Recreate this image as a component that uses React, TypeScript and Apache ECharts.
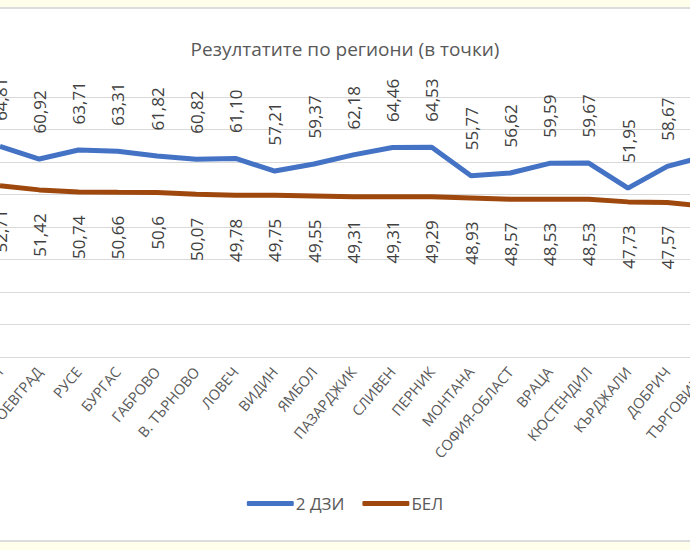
import React, { useEffect, useRef } from "react";
import * as echarts from "echarts";

const categories = [
  "СМОЛЯН",
  "БЛАГОЕВГРАД",
  "РУСЕ",
  "БУРГАС",
  "ГАБРОВО",
  "В. ТЪРНОВО",
  "ЛОВЕЧ",
  "ВИДИН",
  "ЯМБОЛ",
  "ПАЗАРДЖИК",
  "СЛИВЕН",
  "ПЕРНИК",
  "МОНТАНА",
  "СОФИЯ-ОБЛАСТ",
  "ВРАЦА",
  "КЮСТЕНДИЛ",
  "КЪРДЖАЛИ",
  "ДОБРИЧ",
  "ТЪРГОВИЩЕ",
];

const dziValues = [
  64.81, 60.92, 63.71, 63.31, 61.82, 60.82, 61.1, 57.21, 59.37, 62.18, 64.46,
  64.53, 55.77, 56.62, 59.59, 59.67, 51.95, 58.67, 61.8,
];

const belValues = [
  52.71, 51.42, 50.74, 50.66, 50.6, 50.07, 49.78, 49.75, 49.55, 49.31, 49.31,
  49.29, 48.93, 48.57, 48.53, 48.53, 47.73, 47.57, 46.3,
];

const seriesNames = ["2 ДЗИ", "БЕЛ"];
const titleText = "Резултатите по региони (в точки)";

const FONT = "'Open Sans', 'Noto Sans', sans-serif";

export default function App() {
  const ref = useRef<HTMLDivElement>(null);

  useEffect(() => {
    if (!ref.current) return;
    const chart = echarts.init(ref.current, null, { renderer: "svg" });
    chart.setOption({
      animation: false,
      backgroundColor: "#ffffff",
      textStyle: { fontFamily: FONT },
      graphic: [
        { type: "rect", shape: { x: 0, y: 0, width: 690, height: 7 }, style: { fill: "#FFFEEA" }, silent: true },
        { type: "rect", shape: { x: 0, y: 7, width: 690, height: 2 }, style: { fill: "#DCDCDC" }, silent: true },
        { type: "rect", shape: { x: 0, y: 540, width: 690, height: 2 }, style: { fill: "#DCDCDC" }, silent: true },
        { type: "rect", shape: { x: 0, y: 542, width: 690, height: 8 }, style: { fill: "#FFFEEA" }, silent: true },
      ],
      title: {
        text: titleText,
        left: "center",
        top: 34,
        textStyle: { fontFamily: FONT, fontSize: 19, fontWeight: "normal", color: "#595959" },
      },
      legend: {
        data: seriesNames,
        top: 490,
        left: "center",
        icon: "roundRect",
        itemWidth: 47,
        itemHeight: 5,
        itemGap: 18,
        textStyle: { fontFamily: FONT, fontSize: 17, color: "#595959", padding: [0, 0, 0, -3] },
      },
      grid: {
        left: 0,
        right: -16.5,
        top: 97,
        bottom: 193,
        containLabel: false,
        outerBoundsMode: "none",
      },
      xAxis: {
        type: "category",
        data: categories,
        boundaryGap: false,
        axisLine: { show: true, lineStyle: { color: "#D9D9D9", width: 1 } },
        axisTick: { show: false },
        axisLabel: {
          rotate: 50,
          margin: 12,
          interval: 0,
          fontFamily: FONT,
          fontSize: 14.5,
          color: "#595959",
        },
      },
      yAxis: {
        type: "value",
        min: 0,
        max: 80,
        interval: 10,
        axisLabel: { show: false },
        axisLine: { show: false },
        axisTick: { show: false },
        splitLine: { lineStyle: { color: "#D9D9D9", width: 1 } },
      },
      series: [
        {
          name: seriesNames[0],
          type: "line",
          data: dziValues,
          symbol: "circle",
          symbolSize: 1,
          showSymbol: true,
          color: "#4472C4",
          itemStyle: { color: "#4472C4" },
          lineStyle: { color: "#4472C4", width: 5 },
          labelLayout: { hideOverlap: false },
          label: {
            show: true,
            position: "top",
            distance: 25,
            rotate: 90,
            align: "left",
            verticalAlign: "middle",
            fontFamily: FONT,
            fontSize: 17,
            color: "#404040",
            formatter: (p: any) => Number(p.value).toFixed(2).replace(".", ","),
          },
        },
        {
          name: seriesNames[1],
          type: "line",
          data: belValues,
          symbol: "circle",
          symbolSize: 1,
          showSymbol: true,
          color: "#9E480E",
          itemStyle: { color: "#9E480E" },
          lineStyle: { color: "#9E480E", width: 5 },
          labelLayout: { hideOverlap: false },
          label: {
            show: true,
            position: "bottom",
            distance: 23,
            rotate: 90,
            align: "right",
            verticalAlign: "middle",
            fontFamily: FONT,
            fontSize: 17,
            color: "#404040",
            formatter: (p: any) => String(p.value).replace(".", ","),
          },
        },
      ],
    });
    return () => chart.dispose();
  }, []);

  return (
    <div
      ref={ref}
      style={{ position: "absolute", left: 0, top: 0, width: 690, height: 550 }}
    />
  );
}
